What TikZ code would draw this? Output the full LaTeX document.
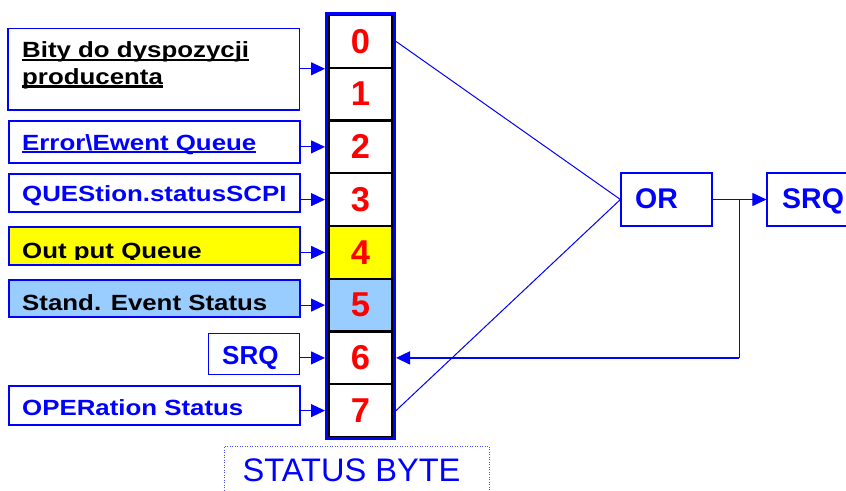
\documentclass[tikz,border=0pt]{standalone}
\usepackage{fontspec}
\setmainfont{Liberation Sans}
\newfontface\labfont[FakeStretch=1.175]{Liberation Sans Bold}
\newfontface\boldfont{Liberation Sans Bold}
\usetikzlibrary{arrows.meta}
\definecolor{pblue}{RGB}{0,0,255}
\definecolor{pred}{RGB}{255,0,0}
\definecolor{pyellow}{RGB}{255,255,0}
\definecolor{lblue}{RGB}{153,204,255}
% underline drawn as a rule just below the baseline
\newcommand\ulword[1]{\setbox0\hbox{#1}\rlap{\rule[-3.3pt]{\wd0}{2.4pt}}\box0}
\begin{document}
\begin{tikzpicture}[x=1pt,y=-1pt,
  lbox/.style={draw=pblue, line width=1.2pt, inner sep=0pt},
  lbl/.style={inner sep=0pt, anchor=base west, font=\labfont\fontsize{22}{22}\selectfont},
  bigl/.style={inner sep=0pt, anchor=base west, text=pblue},
  cellbox/.style={draw=black, line width=2pt, minimum width=63pt, minimum height=52.75pt,
    inner sep=0pt, font=\boldfont\fontsize{34.5}{34.5}\selectfont, text=pred},
  conn/.style={draw=pblue, line width=1pt},
  arr/.style={conn, -{Triangle[length=14pt,width=13pt]}}]
\useasboundingbox (0,0) rectangle (846,490);
\fill[white] (0,0) rectangle (846,490);
\clip (0,0) rectangle (846,490);

% register cells 0..7
\node[cellbox] (c0) at (360.5,41.4) {0};
\node[cellbox] (c1) at (360.5,94.1) {1};
\node[cellbox] (c2) at (360.5,146.9) {2};
\node[cellbox] (c3) at (360.5,199.6) {3};
\node[cellbox, fill=pyellow] (c4) at (360.5,252.4) {4};
\node[cellbox, fill=lblue] (c5) at (360.5,305.1) {5};
\node[cellbox] (c6) at (360.5,357.9) {6};
\node[cellbox] (c7) at (360.5,410.6) {7};
\node[draw=pblue, line width=3pt, minimum width=68pt, minimum height=425.3pt, inner sep=0pt] (reg) at (360.5,225.85) {};

% source boxes on the left
\node[lbox, minimum width=291.5pt, minimum height=81.5pt] (b01) at (153.75,69.25) {};
\node[lbox, minimum width=291pt, minimum height=42pt] (b2) at (154.5,142) {};
\node[lbox, minimum width=291pt, minimum height=38pt] (b3) at (154.5,193) {};
\node[lbox, minimum width=291pt, minimum height=38pt, fill=pyellow] (b4) at (154.5,246) {};
\node[lbox, minimum width=291pt, minimum height=37pt, fill=lblue] (b5) at (154.5,298.5) {};
\node[lbox, minimum width=91pt, minimum height=41pt] (b6) at (254,354) {};
\node[lbox, minimum width=291pt, minimum height=39pt] (b7) at (154.5,405.5) {};

\node[lbl] (t01a) at (22,57.7) {\ulword{Bity do dyspozycji}};
\node[lbl] (t01b) at (22,84.3) {\ulword{producenta}};
\node[lbl, text=pblue] (t2) at (22,150) {\ulword{Error\textbackslash Ewent Queue}};
\node[lbl, text=pblue] (t3) at (22,201) {QUEStion.statusSCPI};
\begin{scope}
  \clip (9,227) rectangle (300,259);
  \node[lbl] (t4) at (22,258) {Out put Queue};
\end{scope}
\node[lbl] (t5) at (22,310.5) {Stand. Event Status};
\node[bigl, font=\boldfont\fontsize{26}{26}\selectfont] (t6) at (222,364.5) {SRQ};
\node[lbl, text=pblue] (t7) at (22,415.5) {OPERation Status};

% inputs into the register
\draw[arr] (b01.east |- c0.south) -- (reg.west |- c0.south);
\draw[arr] (b2.east |- c2) -- (reg.west |- c2);
\draw[arr] (b3.east |- c3) -- (reg.west |- c3);
\draw[arr] (b4.east |- c4) -- (reg.west |- c4);
\draw[arr] (b5.east |- c5) -- (reg.west |- c5);
\draw[arr] (b6.east |- c6) -- (reg.west |- c6);
\draw[arr] (b7.east |- c7) -- (reg.west |- c7);

% OR gate and service request
\node[lbox, minimum width=91pt, minimum height=53pt] (orbox) at (666.5,199.5) {};
\node[bigl, font=\boldfont\fontsize{28.5}{28.5}\selectfont] (tor) at (635,208.5) {OR};
\node[lbox, minimum width=113pt, minimum height=53pt] (srq) at (823.5,199.5) {};
\node[bigl, font=\boldfont\fontsize{28.5}{28.5}\selectfont] (tsrq) at (782,208.5) {SRQ};

\draw[conn] (reg.east |- c0) -- (orbox.west);
\draw[conn] (reg.east |- c7) -- (orbox.west);
\draw[arr] (orbox.east) -- (srq.west);
\coordinate (fb) at (739,199.5);
\draw[conn] (fb) -- (fb |- c6);
\draw[arr, line width=1.6pt] (fb |- c6) -- (reg.east |- c6);

% caption
\node[draw=pblue!70, dash pattern=on 1pt off 1.5pt, line width=1pt,
      minimum width=265pt, minimum height=64pt, inner sep=0pt] (sb) at (356.5,478) {};
\node[inner sep=0pt, anchor=base, text=pblue, font=\fontsize{32.6}{32.6}\selectfont] (tsb) at (351.5,481) {STATUS BYTE};
\end{tikzpicture}
\end{document}
